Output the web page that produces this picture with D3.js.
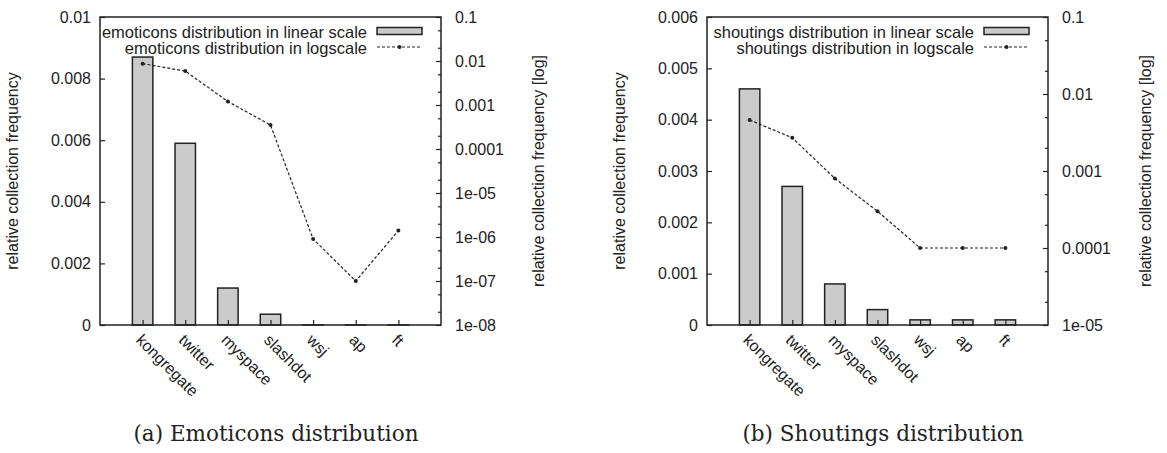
<!DOCTYPE html>
<html>
<meta charset="utf-8">
<script src="https://d3js.org/d3.v7.min.js"></script>
<style>
  body { margin: 0; background: #fff; }
  text { font-family: "Liberation Sans", Arial, sans-serif; fill: #222; }
  .caption { font-family: "DejaVu Serif", serif; }
</style>
<body>
<div id="my_dataviz"></div>
<script>

// data
var categories = ["kongregate", "twitter", "myspace", "slashdot", "wsj", "ap", "ft"];
var emoticonValues = [0.0087, 0.0059, 0.0012, 0.00035, 0.0000009, 0.0000001, 0.0000014];
var shoutingValues = [0.0046, 0.0027, 0.0008, 0.0003, 0.0001, 0.0001, 0.0001];

var emoticonLinTicks = [0, 0.002, 0.004, 0.006, 0.008, 0.01];
var emoticonLinLabels = ["0", "0.002", "0.004", "0.006", "0.008", "0.01"];
var emoticonLogTicks = [1e-8, 1e-7, 1e-6, 1e-5, 1e-4, 1e-3, 1e-2, 1e-1];
var emoticonLogLabels = ["1e-08", "1e-07", "1e-06", "1e-05", "0.0001", "0.001", "0.01", "0.1"];

var shoutingLinTicks = [0, 0.001, 0.002, 0.003, 0.004, 0.005, 0.006];
var shoutingLinLabels = ["0", "0.001", "0.002", "0.003", "0.004", "0.005", "0.006"];
var shoutingLogTicks = [1e-5, 1e-4, 1e-3, 1e-2, 1e-1];
var shoutingLogLabels = ["1e-05", "0.0001", "0.001", "0.01", "0.1"];

var width = 1167, height = 453;
var plotW = 341, plotH = 308, top0 = 17;
var fs = 16;

var svg = d3.select("#my_dataviz")
  .append("svg")
    .attr("width", width)
    .attr("height", height);

function drawPanel(left, name, values, linTicks, linLabels, logTicks, logLabels, caption) {
  var g = svg.append("g").attr("transform", "translate(" + left + "," + top0 + ")");

  var x = d3.scaleLinear().domain([-1, 7]).range([0, plotW]);
  var yLin = d3.scaleLinear().domain([0, linTicks[linTicks.length - 1]]).range([plotH, 0]);
  var yLog = d3.scaleLog().domain([logTicks[0], logTicks[logTicks.length - 1]]).range([plotH, 0]);

  // minor log ticks at 2 and 5 of every decade
  var minor = [];
  logTicks.slice(0, -1).forEach(function(t) { minor.push(t * 2, t * 5); });

  // bars
  g.append("g")
    .selectAll("rect")
    .data(values)
    .enter()
    .append("rect")
      .attr("x", function(d, i) { return x(i - 0.24); })
      .attr("width", x(0.24) - x(-0.24))
      .attr("y", function(d) { return yLin(d); })
      .attr("height", function(d) { return plotH - yLin(d); })
      .attr("fill", "#cbcbcb")
      .attr("stroke", "#222")
      .attr("stroke-width", 1.5);

  // log line
  var line = d3.line()
    .x(function(d, i) { return x(i); })
    .y(function(d) { return yLog(d); });
  g.append("path")
    .datum(values)
    .attr("d", line)
    .attr("fill", "none")
    .attr("stroke", "#222")
    .attr("stroke-width", 1.2)
    .attr("stroke-dasharray", "3,2");
  g.append("g")
    .selectAll("circle")
    .data(values)
    .enter()
    .append("circle")
      .attr("cx", function(d, i) { return x(i); })
      .attr("cy", function(d) { return yLog(d); })
      .attr("r", 2)
      .attr("fill", "#222");

  // axes
  var ax = g.append("g");
  ax.append("g")
    .call(d3.axisLeft(yLin).tickValues(linTicks).tickSize(-5).tickPadding(9)
      .tickFormat(function(d, i) { return linLabels[i]; }));
  ax.append("g")
    .attr("transform", "translate(" + plotW + ",0)")
    .call(d3.axisRight(yLog).tickValues(logTicks).tickSize(-5).tickPadding(14)
      .tickFormat(function(d, i) { return logLabels[i]; }));
  ax.append("g")
    .attr("transform", "translate(" + plotW + ",0)")
    .call(d3.axisRight(yLog).tickValues(minor).tickSize(-3).tickFormat(""));
  var xa = ax.append("g")
    .attr("transform", "translate(0," + plotH + ")")
    .call(d3.axisBottom(x).tickValues(d3.range(categories.length)).tickSize(-5)
      .tickFormat(function(d) { return categories[d]; }));
  xa.selectAll("text")
    .attr("y", 0)
    .attr("dy", 0)
    .attr("text-anchor", "start")
    .attr("transform", "translate(-8,16) rotate(45)");
  ax.selectAll(".domain").remove();
  ax.selectAll("text")
    .attr("fill", "#222")
    .attr("font-size", fs)
    .attr("font-family", "Liberation Sans, Arial, sans-serif");
  ax.selectAll("line").attr("stroke", "#222").attr("stroke-width", 1.2);

  // frame
  g.append("rect")
    .attr("width", plotW)
    .attr("height", plotH)
    .attr("fill", "none")
    .attr("stroke", "#222")
    .attr("stroke-width", 1.5);

  // axis titles
  g.append("text")
    .attr("transform", "translate(" + (-86) + "," + (plotH / 2) + ") rotate(-90)")
    .attr("text-anchor", "middle")
    .attr("dominant-baseline", "middle")
    .attr("font-size", fs)
    .text("relative collection frequency");
  g.append("text")
    .attr("transform", "translate(" + (plotW + 99) + "," + (plotH / 2) + ") rotate(-90)")
    .attr("text-anchor", "middle")
    .attr("dominant-baseline", "middle")
    .attr("font-size", fs)
    .text("relative collection frequency [log]");

  // legend
  var lg = g.append("g").attr("font-size", 16.5);
  lg.append("text").attr("x", 267).attr("y", 21).attr("text-anchor", "end")
    .text(name + " distribution in linear scale");
  lg.append("text").attr("x", 267).attr("y", 37).attr("text-anchor", "end")
    .text(name + " distribution in logscale");
  lg.append("rect").attr("x", 277).attr("y", 10.5).attr("width", 45).attr("height", 7)
    .attr("fill", "#cbcbcb").attr("stroke", "#222").attr("stroke-width", 1.5);
  lg.append("line").attr("x1", 277).attr("x2", 322).attr("y1", 30).attr("y2", 30)
    .attr("stroke", "#222").attr("stroke-width", 1.2).attr("stroke-dasharray", "3,2");
  lg.append("circle").attr("cx", 299.5).attr("cy", 30).attr("r", 2).attr("fill", "#222");

  // caption
  svg.append("text")
    .attr("class", "caption")
    .attr("x", left + 176)
    .attr("y", 441)
    .attr("text-anchor", "middle")
    .attr("font-size", 21.5)
    .text(caption);
}

drawPanel(100, "emoticons", emoticonValues, emoticonLinTicks, emoticonLinLabels,
  emoticonLogTicks, emoticonLogLabels, "(a) Emoticons distribution");
drawPanel(707, "shoutings", shoutingValues, shoutingLinTicks, shoutingLinLabels,
  shoutingLogTicks, shoutingLogLabels, "(b) Shoutings distribution");

</script>
</body>
</html>
